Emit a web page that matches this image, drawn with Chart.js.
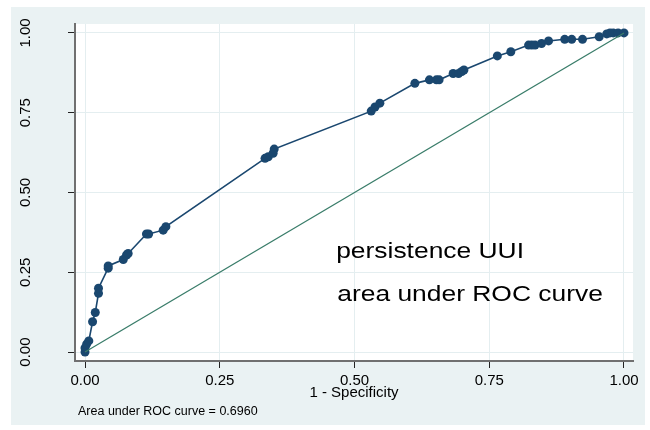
<!DOCTYPE html>
<html>
<head>
<meta charset="utf-8">
<script src="https://cdn.jsdelivr.net/npm/chart.js@4.4.0/dist/chart.umd.min.js"></script>
<style>
  html, body { margin: 0; padding: 0; background: #fff; }
  #wrap { position: absolute; left: 11px; top: 7px; width: 634px; height: 418px; background: #eaf2f3; }
</style>
</head>
<body>
<div id="wrap"><canvas id="rocChart" width="634" height="418"></canvas></div>
<script>
// ROC points: 1 - specificity and sensitivity
const fprValues = [0, 0, 0.003, 0.007, 0.014, 0.019, 0.025, 0.025, 0.043, 0.043,
  0.071, 0.077, 0.080, 0.114, 0.118, 0.145, 0.150, 0.334, 0.340, 0.349,
  0.351, 0.531, 0.538, 0.547, 0.612, 0.639, 0.652, 0.657, 0.683, 0.693,
  0.699, 0.703, 0.765, 0.790, 0.823, 0.829, 0.835, 0.847, 0.860, 0.890,
  0.903, 0.923, 0.954, 0.968, 0.974, 0.980, 0.989, 1.000];
const tprValues = [0, 0.013, 0.025, 0.035, 0.095, 0.124, 0.184, 0.200, 0.263, 0.270,
  0.290, 0.304, 0.309, 0.370, 0.370, 0.382, 0.393, 0.607, 0.612, 0.623,
  0.636, 0.755, 0.768, 0.780, 0.842, 0.853, 0.853, 0.853, 0.873, 0.873,
  0.879, 0.884, 0.928, 0.941, 0.962, 0.962, 0.962, 0.967, 0.975, 0.980,
  0.980, 0.980, 0.988, 0.997, 1.000, 1.000, 1.000, 1.000];
const refLineX = [0, 1];
const refLineY = [0, 1];
const tickValues = [0, 0.25, 0.5, 0.75, 1];
const textLines = ['persistence UUI', 'area under ROC curve'];
const noteText = 'Area under ROC curve = 0.6960';
const xTitle = '1 - Specificity';

const fontFamily = '"Liberation Sans", Arial, sans-serif';
const rocColor = '#1a476f';
const refColor = '#3a7d6a';

let rocPoints = fprValues.map((v, i) => ({ x: v, y: tprValues[i] }));
let refPoints = refLineX.map((v, i) => ({ x: v, y: refLineY[i] }));

const plotBackground = {
    id: 'plotBackground',
    beforeDraw(chart) {
        const { ctx, chartArea } = chart;
        ctx.save();
        ctx.fillStyle = '#ffffff';
        ctx.fillRect(chartArea.left, chartArea.top, chartArea.right - chartArea.left, chartArea.bottom - chartArea.top);
        ctx.restore();
    }
};

// the reference text looks a bit wide, so stretch it sideways
function wideText(ctx, str, x, y) {
    ctx.save();
    ctx.translate(x, y);
    ctx.scale(1.2, 1);
    ctx.fillText(str, 0, 0);
    ctx.restore();
}

const chartTexts = {
    id: 'chartTexts',
    afterDraw(chart) {
        const ctx = chart.ctx;
        const xs = chart.scales.x;
        const ys = chart.scales.y;
        ctx.save();
        ctx.fillStyle = '#000';
        ctx.textAlign = 'left';
        ctx.textBaseline = 'alphabetic';
        ctx.font = '22px ' + fontFamily;
        wideText(ctx, textLines[0], xs.getPixelForValue(0.466), ys.getPixelForValue(0.295));
        wideText(ctx, textLines[1], xs.getPixelForValue(0.468), ys.getPixelForValue(0.160));
        // note under the graph
        ctx.font = '12.5px ' + fontFamily;
        ctx.fillText(noteText, 67, 408);
        ctx.restore();
    }
};

// keep the plot area where the reference has it
function fixPadding(scale) {
    scale.paddingTop = 0;
    scale.paddingBottom = 0;
    scale.paddingLeft = 0;
    scale.paddingRight = 0;
}

new Chart(document.getElementById('rocChart'), {
    type: 'scatter',
    data: {
        datasets: [
            {
                data: refPoints,
                showLine: true,
                borderColor: refColor,
                borderWidth: 1.3,
                pointRadius: 0,
                order: 0,
            },
            {
                data: rocPoints,
                showLine: true,
                borderColor: rocColor,
                backgroundColor: rocColor,
                borderWidth: 1.6,
                pointRadius: 4.5,
                pointBorderWidth: 0,
                order: 1,
            },
        ],
    },
    options: {
        responsive: false,
        animation: false,
        layout: { padding: { left: 0, top: 17, right: 12, bottom: 0 } },
        plugins: {
            legend: { display: false },
            tooltip: { enabled: false },
        },
        scales: {
            x: {
                type: 'linear',
                min: -0.0186,
                max: 1.0167,
                afterBuildTicks: (scale) => { scale.ticks = tickValues.map(v => ({ value: v })); },
                afterFit: (scale) => { scale.height = 64; fixPadding(scale); },
                grid: { color: '#e4eef0', tickColor: '#222', tickLength: 7, lineWidth: 1 },
                border: { display: true, color: '#707070', width: 2 },
                ticks: {
                    color: '#000',
                    padding: 4,
                    maxRotation: 0,
                    font: { family: fontFamily, size: 15 },
                    callback: (v) => Number(v).toFixed(2),
                },
                title: {
                    display: true,
                    text: xTitle,
                    color: '#000',
                    font: { family: fontFamily, size: 15 },
                    padding: { top: 0, bottom: 23 },
                },
            },
            y: {
                type: 'linear',
                min: -0.028,
                max: 1.028,
                afterBuildTicks: (scale) => { scale.ticks = tickValues.map(v => ({ value: v })); },
                afterFit: (scale) => { scale.width = 64; fixPadding(scale); },
                grid: { color: '#e4eef0', tickColor: '#222', tickLength: 7, lineWidth: 1 },
                border: { display: true, color: '#707070', width: 2 },
                ticks: {
                    color: '#000',
                    padding: 28,
                    minRotation: 90,
                    maxRotation: 90,
                    crossAlign: 'center',
                    font: { family: fontFamily, size: 15 },
                    callback: (v) => Number(v).toFixed(2),
                },
            },
        },
    },
    plugins: [plotBackground, chartTexts],
});
</script>
</body>
</html>
